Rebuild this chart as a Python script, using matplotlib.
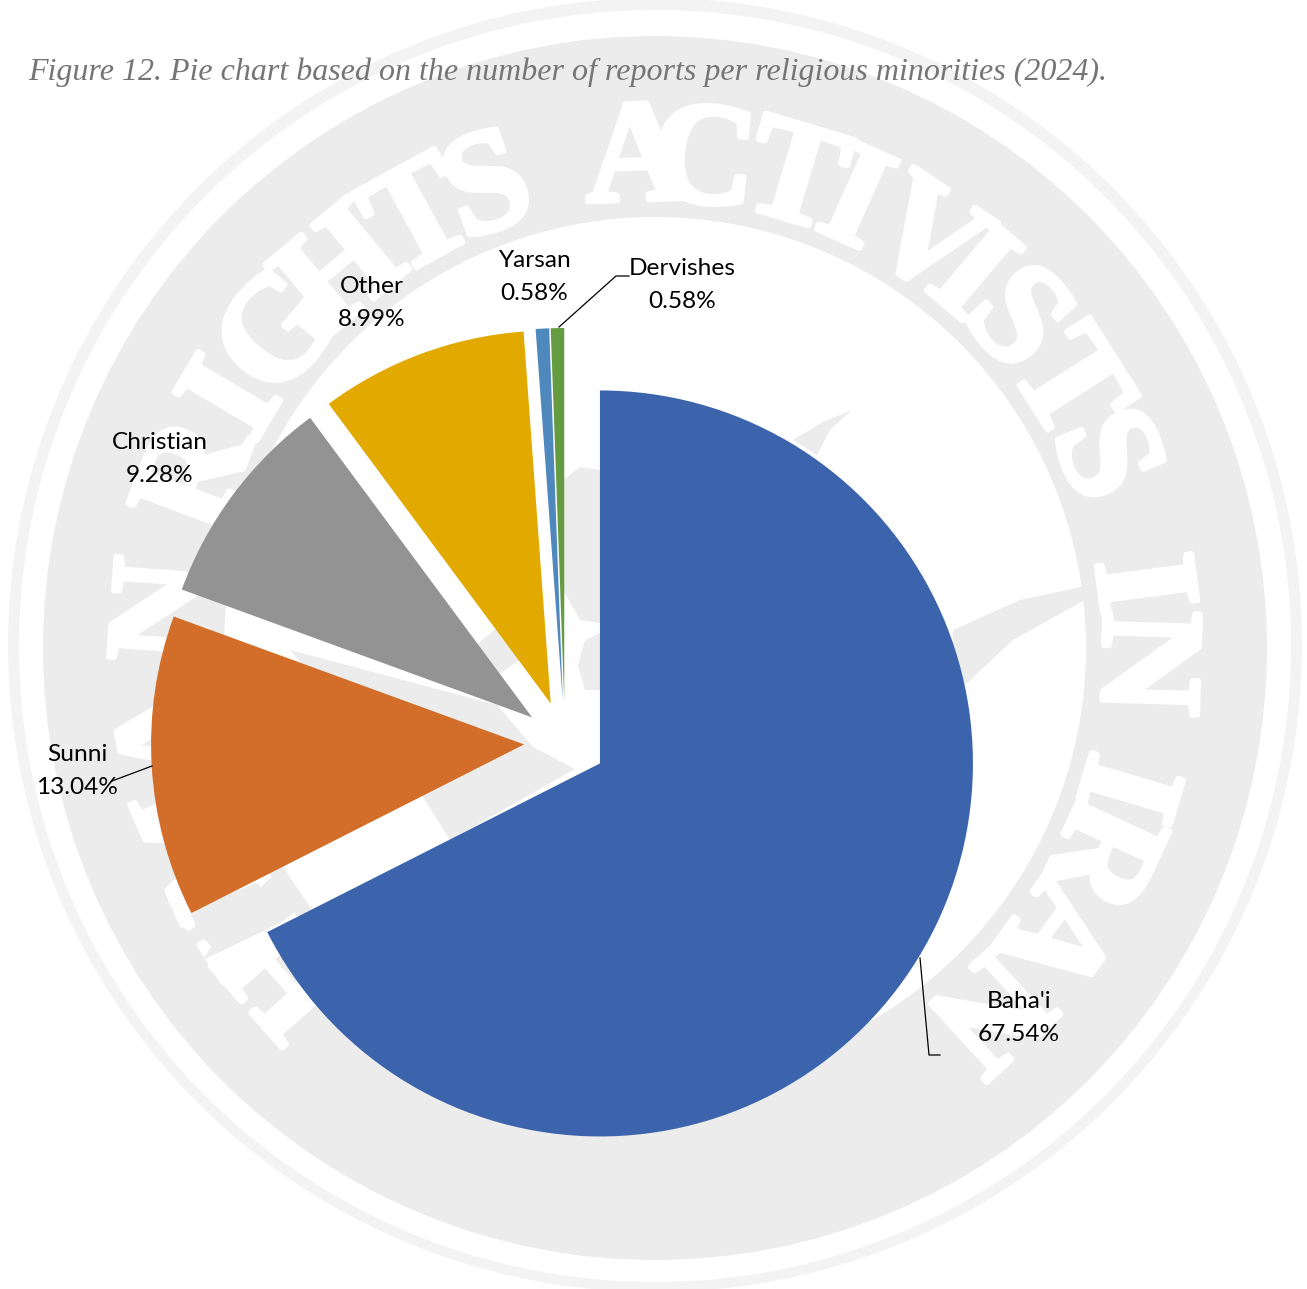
import math
import matplotlib
matplotlib.use("Agg")
import matplotlib.pyplot as plt
import matplotlib.patheffects as pe
from matplotlib.patches import Circle, Polygon

# data
categories = ["Baha'i", "Sunni", "Christian", "Other", "Yarsan", "Dervishes"]
shares = [67.54, 13.04, 9.28, 8.99, 0.58, 0.58]
colores = ["#3c64ac", "#d26e2a", "#939393", "#e2aa00", "#4f88bd", "#669c41"]

titulo = "Figure 12. Pie chart based on the number of reports per religious minorities (2024)."

# watermark letters and their angle on the ring (degrees, math convention)
marca_letras = list("HUMANRIGHTSACTIVISTSINIRAN")
marca_angulos = [221.3, 212.7, 203.4, 189.9, 175.7,
                 159.4, 149.5, 140, 129.8, 118.7, 110,
                 92, 84.3, 73.4, 65.9, 56.4, 49.8, 42.3, 32.4, 23.2,
                 7.5, -1.7,
                 -16.5, -24.9, -35.7, -47.3]

W, H = 1307, 1289


def fy(y):
    return H - y


fig = plt.figure(figsize=(W / 100, H / 100), dpi=100)
ax = fig.add_axes([0, 0, 1, 1])

# watermark rings
cinza = "#ececec"
ax.add_patch(Circle((655, fy(645)), 647, fc="#f3f3f3", ec="none", zorder=1))
ax.add_patch(Circle((655, fy(646)), 636, fc="white", ec="none", zorder=1.1))
ax.add_patch(Circle((655, fy(648)), 612, fc=cinza, ec="none", zorder=1.2))
ax.add_patch(Circle((655, fy(648)), 431, fc="white", ec="none", zorder=1.3))

for letra, ang in zip(marca_letras, marca_angulos):
    a = math.radians(ang)
    ax.text(655 + 484 * math.cos(a), fy(648) + 484 * math.sin(a), letra,
            family="Liberation Serif", weight="bold", fontsize=105, color="white",
            rotation=ang - 90, rotation_mode="anchor",
            ha="center", va="center", zorder=1.4,
            path_effects=[pe.withStroke(linewidth=4, foreground="white")])

# emblem pieces that show between the wedges
formas = [
    [(290, 650), (497, 705), (533, 747), (575, 769), (450, 840), (423, 797)],
    [(470, 650), (503, 623), (520, 660), (490, 680)],
    [(852, 410), (823, 422), (793, 440), (817, 455), (830, 430)],
    [(1090, 585), (1020, 600), (953, 630), (950, 700), (967, 683), (1013, 640), (1090, 597)],
    [(268, 880), (283, 870), (307, 903), (280, 923), (203, 960), (225, 925)],
    [(563, 480), (580, 467), (600, 470), (600, 623), (580, 620), (563, 590)],
    [(600, 633), (585, 640), (578, 665), (585, 690), (600, 690)],
]
for f in formas:
    ax.add_patch(Polygon([(x, fy(y)) for x, y in f], fc=cinza, ec="none", zorder=1.5))

# pie
wedges, _ = ax.pie(shares, colors=colores, startangle=90, counterclock=False,
                   center=(565, fy(742)), radius=373, explode=[41] * 6,
                   frame=True, wedgeprops={"linewidth": 0})
for w in wedges:
    w.set_zorder(3)

# labels
label_x = [1019, 77, 160, 372, 534, 682]
label_y = [1018, 771, 459, 303, 277, 285]
for nome, val, lx, ly in zip(categories, shares, label_x, label_y):
    ax.text(lx, fy(ly), "%s\n%.2f%%" % (nome, val), family="Lato", fontsize=17.6,
            color="black", ha="center", va="center", linespacing=1.65, zorder=5)

# leader lines
for xs, ys in [([920, 929, 940], [958, 1055, 1055]),
               ([152, 112], [766, 781]),
               ([559, 616, 629], [327, 276, 276])]:
    ax.plot(xs, [fy(y) for y in ys], color="black", lw=0.9, zorder=4)

ax.text(28, fy(80), titulo, family="Liberation Serif", style="italic",
        fontsize=23.05, color="#757575", ha="left", va="baseline", zorder=6)

ax.set_xlim(0, W)
ax.set_ylim(0, H)
ax.set_aspect("auto")
ax.axis("off")
fig.savefig("out.png", dpi=100)
